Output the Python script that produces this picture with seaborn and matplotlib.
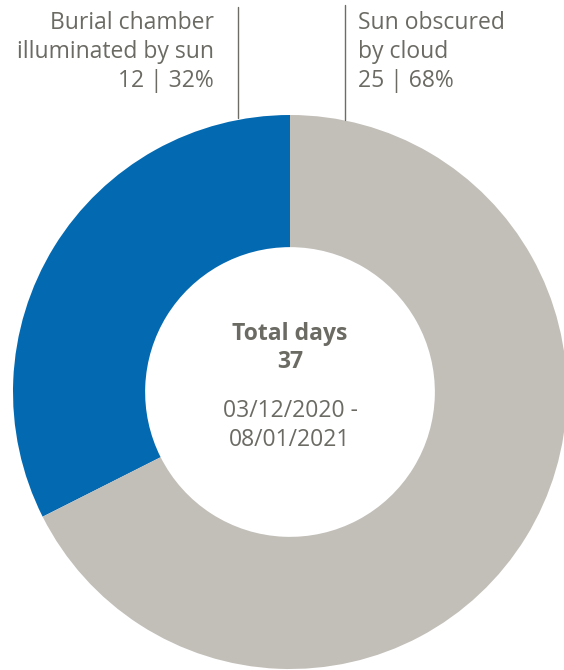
import matplotlib
matplotlib.use("Agg")
import matplotlib.pyplot as plt
import seaborn as sns
from matplotlib.lines import Line2D

sns.set_theme(style="white")
plt.rcParams["font.family"] = ["Open Sans", "DejaVu Sans"]

# Daily observations of the burial chamber, 03/12/2020 - 08/01/2021
categories = ["Burial chamber\nilluminated by sun", "Sun obscured\nby cloud"]
days = [12, 25]
colors = ["#0369b1", "#c2beb8"]
period = ["03/12/2020 -", "08/01/2021"]

total = sum(days)
pcts = [round(100 * d / total) for d in days]

W, H = 564, 670
fig = plt.figure(figsize=(W / 100, H / 100), dpi=100)
fig.patch.set_facecolor("white")

# donut centre and radius in pixels
cx, cy, R = 290, 392, 277
ax = fig.add_axes([(cx - R) / W, (H - cy - R) / H, 2 * R / W, 2 * R / H])
ax.pie(days, colors=colors, startangle=90, counterclock=True, radius=1,
       wedgeprops=dict(width=0.477, linewidth=0))
ax.set_xlim(-1, 1)
ax.set_ylim(-1, 1)
ax.set_aspect("equal")
ax.axis("off")

txt = "#6b6a63"
fs = 16.5


def px(x, y):
    return x / W, 1 - y / H


# centre summary
centre_lines = [("Total days", 331, "bold"), (str(total), 359, "bold"),
                (period[0], 408, "normal"), (period[1], 437, "normal")]
for s, y, w in centre_lines:
    fig.text(*px(cx, y), s, ha="center", va="center_baseline",
             fontsize=fs, fontweight=w, color=txt)

# outside labels with leader lines
labels = [f"{categories[0]}\n{days[0]} | {pcts[0]}%",
          f"{categories[1]}\n{days[1]} | {pcts[1]}%"]
anchors = [(214, "right"), (358, "left")]
for lab, (x, ha) in zip(labels, anchors):
    for i, line in enumerate(lab.split("\n")):
        fig.text(*px(x, 20 + 29 * i), line, ha=ha, va="center_baseline",
                 fontsize=fs, color=txt)

for x0, y0, y1 in [(238, 7, 118), (345, 5, 120)]:
    fig.add_artist(Line2D([x0 / W, x0 / W], [1 - y0 / H, 1 - y1 / H],
                          color="#6d6d66", linewidth=1.0))

fig.savefig("out.png", dpi=100, facecolor="white")
